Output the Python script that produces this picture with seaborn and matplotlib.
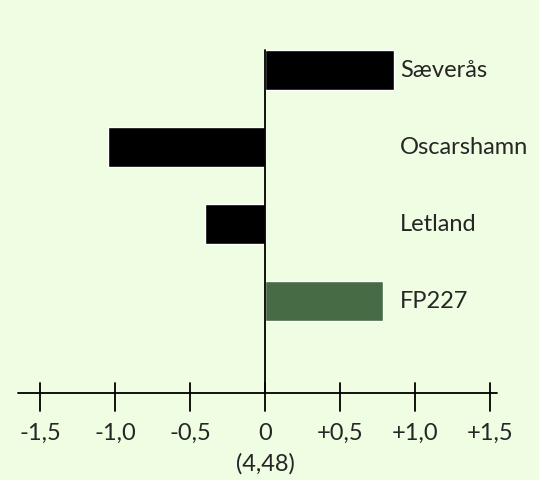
import matplotlib
matplotlib.use("Agg")
import matplotlib.pyplot as plt
import seaborn as sns
import pandas as pd

sites = ["Sæverås", "Oscarshamn", "Letland", "FP227"]
values = [0.86, -1.05, -0.40, 0.79]
bar_colors = ["#000000", "#000000", "#000000", "#476b45"]
tick_values = [-1.5, -1.0, -0.5, 0, 0.5, 1.0, 1.5]
tick_labels = ["-1,5", "-1,0", "-0,5", "0", "+0,5", "+1,0", "+1,5"]
axis_note = "(4,48)"

bg = "#effde2"
sns.set_style("white")
plt.rcParams["font.family"] = ["Lato", "DejaVu Sans"]

fig = plt.figure(figsize=(5.39, 4.80), dpi=100)
fig.patch.set_facecolor(bg)
ax = fig.add_axes([0, 0, 1, 1])
ax.set_facecolor(bg)

df = pd.DataFrame({"site": sites, "value": values})
sns.barplot(data=df, x="value", y="site", hue="site", palette=bar_colors,
            legend=False, width=0.52, orient="h", ax=ax, saturation=1)

ax.set_xlim(-1.770, 1.830)
ax.set_ylim(5.32, -0.909)

# centre line and horizontal axis
ax.plot([0, 0], [-0.26, 4.19], color="black", lw=1.3)
ax.plot([-1.65, 1.55], [4.19, 4.19], color="black", lw=1.3)
for tv, tl in zip(tick_values, tick_labels):
    ax.plot([tv, tv], [4.06, 4.42], color="black", lw=1.3)
    ax.text(tv, 4.72, tl, ha="center", va="center", fontsize=17)
ax.text(0, 5.11, axis_note, ha="center", va="center", fontsize=17)

for i, s in enumerate(sites):
    ax.text(0.90, i, s, ha="left", va="center", fontsize=17)

ax.set_axis_off()
fig.savefig("out.png", dpi=100, facecolor=bg)
